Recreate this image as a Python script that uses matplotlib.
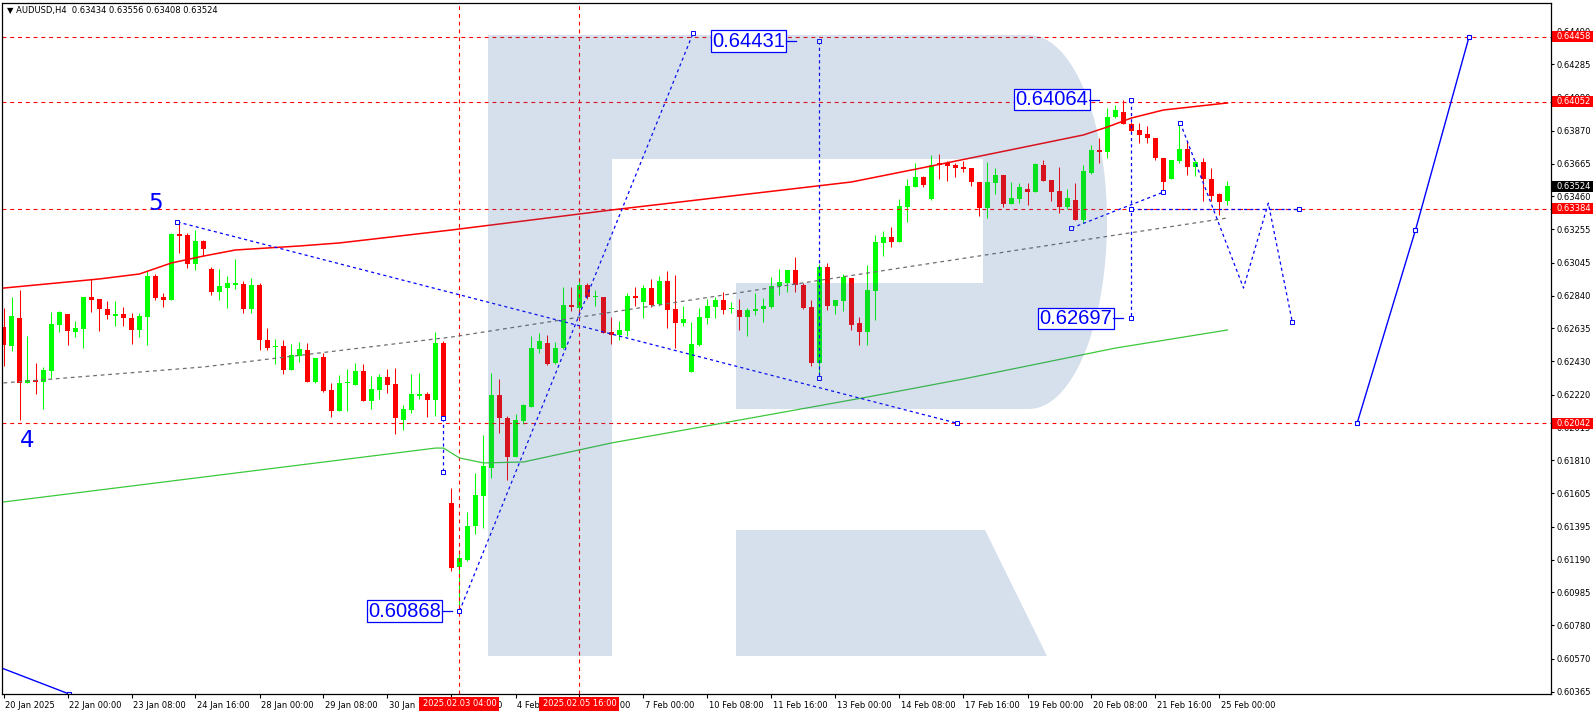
import matplotlib
matplotlib.use("Agg")
import matplotlib.pyplot as plt
import matplotlib.transforms as mtransforms
from matplotlib.patches import Rectangle, Polygon
import numpy as np

plt.rcParams['font.family'] = ['DejaVu Sans']

# ---------------- data (AUDUSD H4 candles, bar 0 = 20 Jan 16:00) ----------------
opens = [0.62646,0.62525,0.62698,0.62292,0.62312,0.62302,0.62371,0.62656,0.62725,0.62615,
         0.62631,0.62833,0.62819,0.62756,0.62715,0.62725,0.62702,0.62625,0.62708,0.62963,
         0.62833,0.62813,0.63225,0.63219,0.63038,0.63181,0.63006,0.62865,0.62890,0.62906,
         0.62913,0.62754,0.62906,0.62563,0.62517,0.62525,0.62375,0.62463,0.62500,0.62298,
         0.62458,0.62250,0.62119,0.62292,0.62281,0.62369,0.62181,0.62250,0.62329,0.62288,
         0.62063,0.62125,0.62215,0.62225,0.62188,0.62542,0.61541,0.61141,0.61187,0.61402,
         0.61589,0.61764,0.62219,0.62077,0.61833,0.62058,0.62146,0.62504,0.62542,0.62417,
         0.62510,0.62781,0.62760,0.62906,0.62829,0.62829,0.62613,0.62594,0.62619,0.62838,
         0.62802,0.62890,0.62785,0.62931,0.62754,0.62671,0.62365,0.62531,0.62702,0.62771,
         0.62813,0.62756,0.62750,0.62708,0.62746,0.62754,0.62771,0.62900,0.62921,0.63000,
         0.62906,0.62771,0.62421,0.63017,0.62777,0.62808,0.62948,0.62666,0.62614,0.62870,
         0.63166,0.63204,0.63172,0.63395,0.63520,0.63579,0.63443,0.63666,0.63666,0.63656,
         0.63641,0.63639,0.63552,0.63389,0.63545,0.63593,0.63412,0.63443,0.63506,0.63489,
         0.63656,0.63562,0.63493,0.63395,0.63437,0.63312,0.63608,0.63750,0.63739,0.63954,
         0.63989,0.63912,0.63875,0.63850,0.63822,0.63697,0.63568,0.63681,0.63756,0.63641,
         0.63677,0.63568,0.63475,0.63434]
highs = [0.62760,0.62833,0.62875,0.62588,0.62417,0.62392,0.62740,0.62746,0.62725,0.62681,
         0.62833,0.62942,0.62819,0.62806,0.62806,0.62767,0.62733,0.62733,0.62996,0.62975,
         0.62858,0.63233,0.63306,0.63229,0.63250,0.63188,0.63021,0.63006,0.62963,0.63069,
         0.62931,0.62952,0.62917,0.62640,0.62569,0.62563,0.62538,0.62552,0.62542,0.62452,
         0.62483,0.62292,0.62344,0.62381,0.62417,0.62413,0.62338,0.62350,0.62381,0.62390,
         0.62156,0.62350,0.62354,0.62240,0.62615,0.62556,0.61639,0.61250,0.61489,0.61733,
         0.61968,0.62354,0.62319,0.62090,0.62100,0.62162,0.62588,0.62604,0.62594,0.62552,
         0.62892,0.62892,0.62952,0.62921,0.62875,0.62829,0.62704,0.62681,0.62854,0.62892,
         0.62906,0.62944,0.62965,0.62994,0.62969,0.62775,0.62677,0.62765,0.62819,0.62833,
         0.62860,0.62802,0.62817,0.62760,0.62854,0.62823,0.62958,0.63006,0.63000,0.63083,
         0.62921,0.62813,0.63040,0.63042,0.62813,0.62975,0.62948,0.62708,0.63031,0.63218,
         0.63245,0.63270,0.63443,0.63568,0.63670,0.63589,0.63718,0.63725,0.63683,0.63666,
         0.63681,0.63639,0.63552,0.63677,0.63639,0.63593,0.63552,0.63545,0.63545,0.63670,
         0.63687,0.63562,0.63641,0.63506,0.63545,0.63656,0.63781,0.63822,0.64010,0.64031,
         0.64064,0.63927,0.63916,0.63902,0.63822,0.63697,0.63687,0.63920,0.63802,0.63687,
         0.63702,0.63635,0.63479,0.63556]
lows = [0.62400,0.62494,0.62063,0.62292,0.62225,0.62129,0.62323,0.62615,0.62531,0.62583,
        0.62515,0.62740,0.62621,0.62694,0.62650,0.62650,0.62538,0.62583,0.62531,0.62813,
        0.62771,0.62813,0.63104,0.63015,0.63000,0.63088,0.62844,0.62813,0.62760,0.62879,
        0.62733,0.62733,0.62500,0.62500,0.62413,0.62350,0.62375,0.62427,0.62302,0.62292,
        0.62240,0.62083,0.62119,0.62119,0.62281,0.62181,0.62131,0.62194,0.62233,0.61973,
        0.62000,0.62104,0.62194,0.62083,0.62090,0.62063,0.61120,0.60868,0.61181,0.61350,
        0.61389,0.61702,0.61979,0.61688,0.61833,0.62035,0.62146,0.62483,0.62406,0.62413,
        0.62504,0.62744,0.62729,0.62821,0.62777,0.62604,0.62538,0.62563,0.62588,0.62775,
        0.62702,0.62771,0.62775,0.62640,0.62515,0.62650,0.62365,0.62527,0.62663,0.62698,
        0.62723,0.62729,0.62625,0.62588,0.62719,0.62677,0.62760,0.62844,0.62865,0.62865,
        0.62754,0.62400,0.62323,0.62750,0.62725,0.62744,0.62625,0.62531,0.62531,0.62687,
        0.63089,0.63145,0.63172,0.63302,0.63516,0.63516,0.63437,0.63568,0.63556,0.63583,
        0.63614,0.63525,0.63337,0.63327,0.63475,0.63395,0.63412,0.63420,0.63406,0.63489,
        0.63558,0.63433,0.63354,0.63379,0.63312,0.63291,0.63597,0.63666,0.63702,0.63947,
        0.63910,0.63860,0.63795,0.63791,0.63687,0.63500,0.63568,0.63666,0.63593,0.63589,
        0.63431,0.63431,0.63343,0.63408]
closes = [0.62531,0.62713,0.62296,0.62313,0.62302,0.62375,0.62663,0.62740,0.62621,0.62635,
          0.62833,0.62813,0.62756,0.62719,0.62725,0.62702,0.62625,0.62713,0.62963,0.62823,
          0.62813,0.63225,0.63215,0.63038,0.63181,0.63131,0.62865,0.62900,0.62917,0.62917,
          0.62754,0.62906,0.62563,0.62515,0.62525,0.62375,0.62469,0.62506,0.62302,0.62452,
          0.62244,0.62119,0.62292,0.62298,0.62369,0.62181,0.62256,0.62329,0.62281,0.62077,
          0.62131,0.62225,0.62225,0.62188,0.62542,0.62077,0.61135,0.61197,0.61400,0.61593,
          0.61775,0.62218,0.62073,0.61833,0.62062,0.62156,0.62515,0.62556,0.62413,0.62510,
          0.62781,0.62767,0.62906,0.62829,0.62831,0.62608,0.62596,0.62625,0.62838,0.62827,
          0.62890,0.62781,0.62931,0.62750,0.62671,0.62694,0.62538,0.62708,0.62775,0.62813,
          0.62750,0.62760,0.62708,0.62750,0.62754,0.62775,0.62900,0.62925,0.63000,0.62906,
          0.62765,0.62421,0.63017,0.62777,0.62813,0.62954,0.62656,0.62614,0.62875,0.63172,
          0.63208,0.63177,0.63400,0.63525,0.63579,0.63531,0.63656,0.63656,0.63650,0.63639,
          0.63629,0.63552,0.63389,0.63552,0.63593,0.63412,0.63452,0.63520,0.63489,0.63662,
          0.63558,0.63489,0.63395,0.63452,0.63312,0.63618,0.63750,0.63739,0.63958,0.64000,
          0.63910,0.63870,0.63843,0.63827,0.63702,0.63552,0.63687,0.63756,0.63641,0.63677,
          0.63568,0.63464,0.63427,0.63524]

x_tick_pos = [0, 8, 16, 24, 32, 40, 48, 56, 64, 72, 80, 88, 96, 104, 112, 120, 128, 136, 144, 152]
x_tick_labels = ["20 Jan 2025", "22 Jan 00:00", "23 Jan 08:00", "24 Jan 16:00", "28 Jan 00:00",
                 "29 Jan 08:00", "30 Jan 16:00", "3 Feb 00:00", "4 Feb 08:00", "5 Feb 16:00",
                 "7 Feb 00:00", "10 Feb 08:00", "11 Feb 16:00", "13 Feb 00:00", "14 Feb 08:00",
                 "17 Feb 16:00", "19 Feb 00:00", "20 Feb 08:00", "21 Feb 16:00", "25 Feb 00:00"]
y_ticks = [0.64490, 0.64285, 0.64080, 0.63870, 0.63665, 0.63460, 0.63255, 0.63045, 0.62840,
           0.62635, 0.62430, 0.62220, 0.62015, 0.61810, 0.61605, 0.61395, 0.61190, 0.60985,
           0.60780, 0.60570, 0.60365]

level_lines = [0.64458, 0.64052, 0.63384, 0.62042]
current_price = 0.63524
vline_bars = [57, 72]
vline_labels = ["2025.02.03 04:00", "2025.02.05 16:00"]

ma_red_x = [0, 12, 17, 21, 25, 29, 37, 42, 56, 76, 106, 116, 127, 135, 138, 141, 145, 153]
ma_red_y = [0.62887, 0.62944, 0.62975, 0.63044, 0.63087, 0.63125, 0.63150, 0.63169, 0.63250,
            0.63375, 0.63550, 0.63650, 0.63762, 0.63844, 0.63894, 0.63950, 0.64000, 0.64044]
ma_green_x = [0, 46, 54, 55, 57, 60, 65, 76, 90, 108, 120, 139, 153]
ma_green_y = [0.61550, 0.61837, 0.61887, 0.61887, 0.61825, 0.61794, 0.61800, 0.61919, 0.62044,
              0.62206, 0.62319, 0.62512, 0.62625]
ma_gray_x = [0, 25, 56, 77, 108, 153]
ma_gray_y = [0.62294, 0.62394, 0.62581, 0.62744, 0.62981, 0.63325]

# wave analysis drawings (bar index, price)
dash_lines = [
    ([21.75, 119.2], [0.63300, 0.62042]),
    ([57, 86.2], [0.60868, 0.64480]),
    ([102, 102], [0.64431, 0.62324]),
    ([141, 141], [0.64064, 0.62697]),
    ([55, 55], [0.62077, 0.61737]),
    ([133.5, 145], [0.63262, 0.63487]),
    ([141, 162], [0.63384, 0.63384]),
    ([147.1, 155.0, 158.1, 161.1], [0.63919, 0.62887, 0.63418, 0.62675]),
]
solid_lines = [
    ([169.2, 176.5, 183.2], [0.62042, 0.63250, 0.64458]),
    ([-1.0, 8.2], [0.60527, 0.60350]),
]
price_label_bar = [97.7, 135.6, 138.6, 54.7]
price_label_val = [0.64431, 0.64064, 0.62697, 0.60868]
wave_labels = ["5", "4"]
wave_label_bar = [19.0, 3.0]
wave_label_val = [0.63415, 0.61934]

# ---------------- layout ----------------
W, H, DPI = 1596, 716, 100
L, R, T, B = 2, 1551, 3, 694          # plot frame in pixels
X0, DX = 3.5, 8.0                      # pixel of bar 0, pixels per bar
P0, K = 0.6468738, 0.0000625           # price at pixel row 0, price per pixel

fig = plt.figure(figsize=(W / DPI, H / DPI), dpi=DPI)
fig.patch.set_facecolor('white')
ax = fig.add_axes([L / W, 1 - B / H, (R - L) / W, (B - T) / H])
ax.set_facecolor('white')

BLUE = '#0000ff'
RED = '#ff0000'
GREEN = '#00ff00'

o = np.array(opens); h = np.array(highs); l = np.array(lows); c = np.array(closes)
idx = np.arange(len(o))
up = c >= o
cols = np.where(up, GREEN, RED)
ax.vlines(idx, l, h, colors=cols, lw=0.75, zorder=2)
ax.bar(idx, np.maximum(np.abs(c - o), K), bottom=np.minimum(o, c), width=5 / DX,
       color=cols, lw=0, zorder=2.1)

# moving averages
ax.plot(ma_red_x, ma_red_y, color=RED, lw=1.1, zorder=3)
ax.plot(ma_green_x, ma_green_y, color='#3cc83c', lw=0.9, zorder=3)
ax.plot(ma_gray_x, ma_gray_y, color='#6e6e6e', lw=0.9, ls=(0, (3, 3)), zorder=3)

# level lines
for lv in level_lines:
    ax.axhline(lv, color=RED, lw=0.8, ls=(0, (3.5, 3.5)), zorder=2.6)
for vb in vline_bars:
    ax.axvline(vb, color=RED, lw=0.8, ls=(0, (3.5, 3.5)), zorder=2.6)

# wave drawings
for xs, ys in dash_lines:
    ax.plot(xs, ys, color=BLUE, lw=0.9, ls=(0, (2.5, 2.5)), zorder=3.2)
    ax.plot([xs[0], xs[-1]], [ys[0], ys[-1]], ls='none', marker='s', ms=2.8,
            mfc='white', mec=BLUE, mew=0.7, zorder=3.3)
for xs, ys in solid_lines:
    ax.plot(xs, ys, color=BLUE, lw=1.0, zorder=3.2, marker='s', ms=3.2,
            mfc='white', mec=BLUE, mew=0.8)

for txt, xb, yv in zip(wave_labels, wave_label_bar, wave_label_val):
    ax.text(xb, yv, txt, color=BLUE, fontsize=16.5, ha='center', va='center', zorder=6)

for xb, pv in zip(price_label_bar, price_label_val):
    ax.text(xb, pv, f"{pv:.5f}", color=BLUE, fontsize=14.5, family='Liberation Sans',
            ha='right', va='center', zorder=6,
            bbox=dict(boxstyle='square,pad=0.06', fc='white', ec=BLUE, lw=0.9))
    ax.plot([xb + 0.15, xb + 1.4], [pv, pv], color=BLUE, lw=0.9, zorder=6)

# watermark logo (pixel coordinates -> axes fraction)
def to_ax(pts):
    return [((px - L) / (R - L), (B - py) / (B - T)) for px, py in pts]

tt = np.linspace(-np.pi / 2, np.pi / 2, 80)
arc = [(1029 + 78 * np.cos(t), 222 + 187 * np.sin(t)) for t in tt]
outline = [(488, 35), (1029, 35)] + arc + [(1029, 409), (736, 409), (736, 283), (983, 283),
                                          (983, 159), (612, 159), (612, 656), (488, 656)]
leg = [(736, 530), (985, 530), (1047, 656), (736, 656)]
for shape in (outline, leg):
    ax.add_patch(Polygon(to_ax(shape), closed=True, transform=ax.transAxes,
                         fc='#3264a0', ec='none', alpha=0.2, zorder=4))

# limits
ax.set_xlim((L - X0) / DX, (R - X0) / DX)
ax.set_ylim(P0 - B * K, P0 - T * K)

# axes styling
for s in ax.spines.values():
    s.set_color('black'); s.set_linewidth(0.9); s.set_zorder(10)
ax.yaxis.tick_right()
ax.set_yticks(y_ticks)
ax.set_yticklabels([f"{v:.5f}" for v in y_ticks])
ax.tick_params(axis='y', direction='out', length=2.2, width=0.8, pad=1.9, labelsize=6)
ax.set_xticks(x_tick_pos)
ax.set_xticklabels([])
ax.tick_params(axis='x', direction='out', length=3, width=0.8)

trans_b = mtransforms.blended_transform_factory(ax.transData, ax.transAxes)
trans_r = mtransforms.blended_transform_factory(ax.transAxes, ax.transData)
ylab = (B - 705) / (B - T)
for p, lab in zip(x_tick_pos, x_tick_labels):
    ax.text(p + 0.15, ylab, lab, transform=trans_b, fontsize=6, ha='left', va='center',
            clip_on=False, zorder=5)

for vb, lab in zip(vline_bars, vline_labels):
    ax.add_patch(Rectangle((vb - 40 / DX, (B - 711) / (B - T)), 80 / DX, 14 / (B - T),
                           transform=trans_b, fc=RED, ec='none', clip_on=False, zorder=7))
    ax.text(vb, (B - 704) / (B - T), lab, transform=trans_b, ha='center', va='center',
            color='white', fontsize=6, zorder=8, clip_on=False)

bx0 = (1552 - L) / (R - L)
bw = 41 / (R - L)
tx0 = (1556.5 - L) / (R - L)
for lv, fc in [(v, RED) for v in level_lines] + [(current_price, 'black')]:
    ax.add_patch(Rectangle((bx0, lv - 5.5 * K), bw, 11 * K, transform=trans_r, fc=fc,
                           ec='none', clip_on=False, zorder=7))
    ax.text(tx0, lv, f"{lv:.5f}", transform=trans_r, color='white', fontsize=6,
            ha='left', va='center', zorder=8, clip_on=False)

fig.text(7 / W, 1 - 10 / H, "\u25bc AUDUSD,H4  0.63434 0.63556 0.63408 0.63524",
         fontsize=6, ha='left', va='center')

fig.savefig("out.png", dpi=DPI, facecolor='white')
